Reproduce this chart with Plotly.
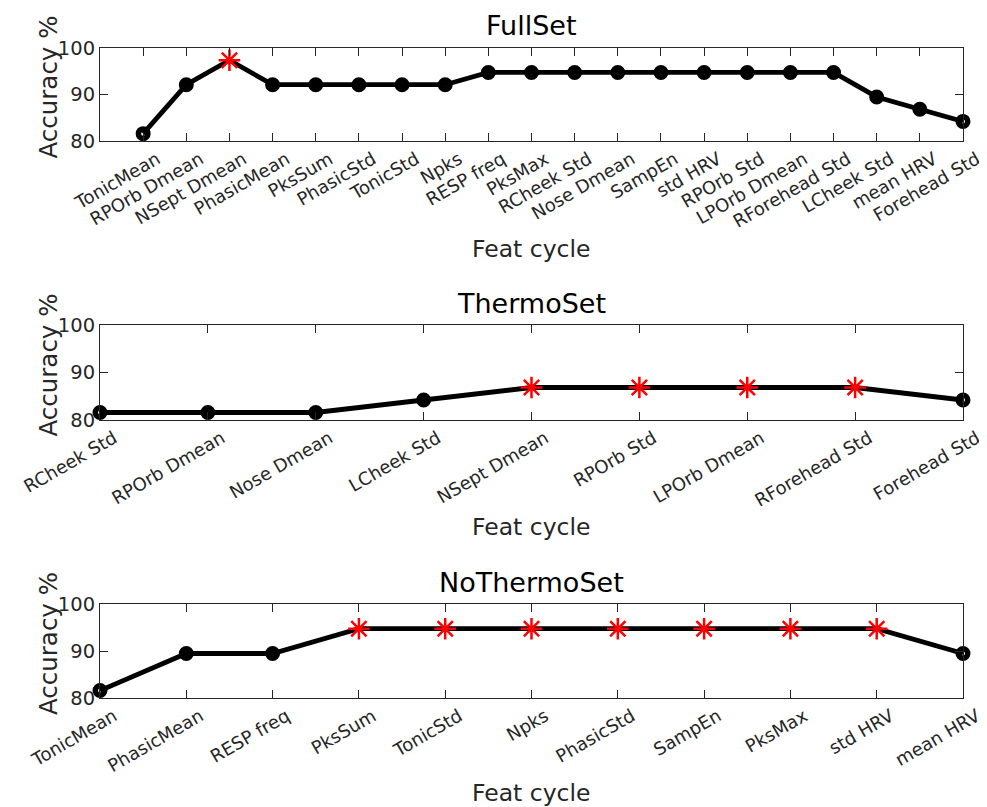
import plotly.graph_objects as go

# ---------------- data ----------------
full_feats = ["TonicMean", "RPOrb Dmean", "NSept Dmean", "PhasicMean", "PksSum",
              "PhasicStd", "TonicStd", "Npks", "RESP freq", "PksMax", "RCheek Std",
              "Nose Dmean", "SampEn", "std HRV", "RPOrb Std", "LPOrb Dmean",
              "RForehead Std", "LCheek Std", "mean HRV", "Forehead Std"]
full_acc = [81.58, 92.11, 97.37, 92.11, 92.11, 92.11, 92.11, 92.11, 94.74, 94.74,
            94.74, 94.74, 94.74, 94.74, 94.74, 94.74, 94.74, 89.47, 86.84, 84.21]

thermo_feats = ["RCheek Std", "RPOrb Dmean", "Nose Dmean", "LCheek Std", "NSept Dmean",
                "RPOrb Std", "LPOrb Dmean", "RForehead Std", "Forehead Std"]
thermo_acc = [81.58, 81.58, 81.58, 84.21, 86.84, 86.84, 86.84, 86.84, 84.21]

nothermo_feats = ["TonicMean", "PhasicMean", "RESP freq", "PksSum", "TonicStd", "Npks",
                  "PhasicStd", "SampEn", "PksMax", "std HRV", "mean HRV"]
nothermo_acc = [81.58, 89.47, 89.47, 94.74, 94.74, 94.74, 94.74, 94.74, 94.74, 94.74, 89.47]

titles = ["FullSet", "ThermoSet", "NoThermoSet"]
y_ticks = [80, 90, 100]
x_label = "Feat cycle"
y_label = "Accuracy %"

# ---------------- layout geometry (window pixels) ----------------
OFF = 8                      # default page body margin
W, H = 987 - OFF, 807 - OFF
LEFT, RIGHT = 100, 963
panels = [  # (top px, bottom px, x range, title cap-center, xlabel center)
    dict(top=48, bot=141, xr=[0, 20], tcy=26, xlcy=249),
    dict(top=325, bot=420, xr=[1, 9], tcy=303, xlcy=527),
    dict(top=604, bot=698, xr=[1, 11], tcy=582, xlcy=793),
]
datasets = [(full_feats, full_acc), (thermo_feats, thermo_acc), (nothermo_feats, nothermo_acc)]


def px_x(v):
    return (v - OFF) / W


def px_y(v):
    return 1 - (v - OFF) / H


AX = "#262626"
FONT = "DejaVu Sans"

fig = go.Figure()
layout = dict(width=W, height=H, margin=dict(l=0, r=0, t=0, b=0),
              paper_bgcolor="white", plot_bgcolor="white", showlegend=False,
              font=dict(family=FONT, color=AX))
annotations = []

for i, (p, (feats, acc)) in enumerate(zip(panels, datasets)):
    n = i + 1
    xa = "x" if n == 1 else f"x{n}"
    ya = "y" if n == 1 else f"y{n}"
    xs = list(range(1, len(feats) + 1))
    best = max(acc)
    is_best = [abs(a - best) < 1e-9 for a in acc]
    fig.add_trace(go.Scatter(
        x=xs, y=acc, xaxis=xa, yaxis=ya, mode="lines+markers",
        line=dict(color="black", width=4.8),
        marker=dict(symbol=["asterisk-open" if b else "circle-open" for b in is_best],
                    size=[18 if b else 9.5 for b in is_best],
                    opacity=1,
                    color=["red" if b else "black" for b in is_best],
                    line=dict(color=["red" if b else "black" for b in is_best],
                              width=[2.5 if b else 5.5 for b in is_best])),
        cliponaxis=False, hoverinfo="skip"))
    dom_y = [px_y(p["bot"]), px_y(p["top"])]
    xkey = "xaxis" if n == 1 else f"xaxis{n}"
    ykey = "yaxis" if n == 1 else f"yaxis{n}"
    layout[xkey] = dict(domain=[px_x(LEFT), px_x(RIGHT)], anchor=ya, range=p["xr"],
                        tickvals=xs, ticktext=feats, tickangle=-30,
                        ticklabeloverflow="allow", ticklabelshift=14,
                        ticks="inside", ticklen=8, tickcolor=AX, tickwidth=1,
                        showline=True, linecolor=AX, linewidth=1, mirror="ticks",
                        showgrid=False, zeroline=False, automargin=False,
                        tickfont=dict(family=FONT, size=18, color=AX))
    layout[ykey] = dict(domain=dom_y, anchor=xa, range=[80, 100],
                        tickvals=y_ticks, ticktext=[str(v) for v in y_ticks],
                        ticks="inside", ticklen=8, tickcolor=AX, tickwidth=1,
                        showline=True, linecolor=AX, linewidth=1, mirror="ticks",
                        showgrid=False, zeroline=False, automargin=False,
                        tickfont=dict(family=FONT, size=19.5, color=AX))
    cx = px_x((LEFT + RIGHT) / 2)
    annotations.append(dict(text=titles[i], x=cx, y=px_y(p["tcy"]), xref="paper", yref="paper",
                            xanchor="center", yanchor="middle", showarrow=False,
                            font=dict(family=FONT, size=27, color="black")))
    annotations.append(dict(text=x_label, x=cx, y=px_y(p["xlcy"]), xref="paper", yref="paper",
                            xanchor="center", yanchor="middle", showarrow=False,
                            font=dict(family=FONT, size=23.5, color=AX)))
    annotations.append(dict(text=y_label, x=px_x(48), y=px_y((p["top"] + p["bot"]) / 2 - 7),
                            xref="paper", yref="paper", textangle=-90,
                            xanchor="center", yanchor="middle", showarrow=False,
                            font=dict(family=FONT, size=24.5, color=AX)))

layout["annotations"] = annotations
fig.update_layout(**layout)
fig.write_html("out.html")
